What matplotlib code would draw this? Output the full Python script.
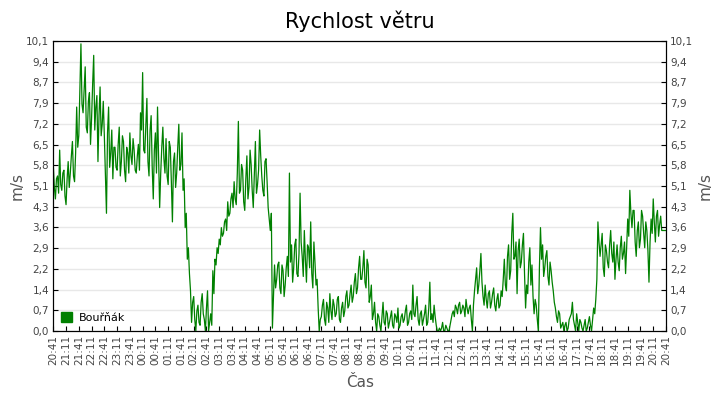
# rychlost vetru - Bourak, 24 h
from datetime import datetime, timedelta
import numpy as np
from matplotlib import pyplot as plt
from matplotlib.patches import Patch
from matplotlib.ticker import FixedLocator, FuncFormatter

start = datetime(2024, 1, 1, 20, 41)
krok = 5  # minut mezi vzorky
nazev = 'Bouřňák'

# odhad z obrazku, po 5 minutach (cas t)
rychlost = [
    5.8, 4.6, 5.4, 6.3, 4.9, 5.6, 4.4, 5.9,
    5.5, 6.6, 5.2,
    7.8, 6.8,
    10.0,
    7.6, 9.2, 6.9, 8.3, 7.4, 9.6, 7.8, 5.9, 8.5, 7.2,
    6.8, 4.1, 7.8, 6.2, 5.3,
    6.4, 5.6, 7.1, 5.9, 6.6, 5.2, 6.2, 6.9, 5.8, 6.3, 5.5,
    6.5, 7.6, 9.0, 6.2, 8.1, 5.4, 7.5, 4.6, 6.9, 7.8, 4.3, 6.4,
    6.0, 6.7, 5.1, 6.4, 3.8, 6.2, 5.5, 7.2, 5.8,
    4.9, 3.6,
    2.5, 2.0,
    0.3, 1.2, 0.0, 0.9, 0.2, 1.3, 0.4, 0.8, 0.0, 0.6,
    2.1,
    2.5, 2.9, 3.2, 3.6, 3.4, 3.9, 4.5, 4.1, 4.8,
    5.2, 4.4, 7.3, 4.9, 5.6, 4.2, 6.1, 5.0, 5.8, 4.3, 6.6, 5.1, 7.0, 5.4, 4.7, 6.0,
    4.3, 3.5,
    0.1, 2.3,
    1.8, 2.4, 1.3, 2.1, 1.6, 2.6,
    5.5, 3.0,
    2.2, 3.2, 1.9, 4.8, 2.6, 3.5, 1.7, 2.9, 3.8, 1.5, 2.4, 1.8,
    0.0,
    0.5, 1.1, 0.2, 0.8, 1.3, 0.4, 0.9, 0.6, 1.2, 0.3, 1.0, 0.7, 1.4, 0.9, 1.6,
    1.2, 2.0, 1.5, 2.6,
    1.8, 2.8, 1.5, 2.3, 1.2,
    0.4, 1.0, 0.0,
    0.5, 0.0, 1.0, 0.2, 0.6, 0.3, 0.7, 0.1, 0.5, 0.8, 0.2, 0.6, 0.4, 0.9, 0.3,
    0.7, 1.6, 0.5, 1.2, 0.2, 0.7, 0.4, 0.9, 0.3, 1.7, 0.6, 0.9, 0.2, 0.0,
    0.0, 0.3, 0.0, 0.1, 0.0, 0.4,
    0.7, 0.9, 0.6, 1.0, 0.7, 0.8, 1.1, 0.6, 0.9, 0.0,
    1.4, 2.2, 1.6, 2.7,
    1.2, 1.6, 0.8, 1.4, 1.0, 1.5, 0.7, 1.3, 0.9, 1.2,
    2.5, 1.4, 3.0, 2.1, 4.1, 2.6, 1.3, 3.2, 2.4, 3.4,
    0.8, 1.3,
    2.9, 2.3,
    0.6, 0.9, 0.0,
    3.6, 3.0,
    2.2, 2.8, 1.6, 2.1,
    1.4, 0.8, 0.3, 0.6, 0.2,
    0.0, 0.3, 0.1, 0.5, 1.0, 0.2, 0.6, 0.0, 0.3, 0.0, 0.4, 0.1, 0.5, 0.0,
    0.8, 1.1,
    3.8,
    2.6, 3.4, 1.9, 2.8, 2.2, 3.5, 2.4, 1.8, 3.0, 2.1, 3.3, 2.7, 2.0,
    3.9, 4.9, 3.6,
    4.2, 2.6, 3.8, 3.2, 4.0, 2.9, 3.5, 1.7, 3.9, 4.6, 3.1, 4.2, 3.7,
    3.5, 3.5, 3.5,
]

# odectene hodnoty mezi vzorky (cas t + 2.5 min)
mezi = [
    5.0, 5.3, 4.8, 5.1, 5.5, 4.7, 5.3, 5.0,
    6.1, 5.4, 6.2,
    6.4, 8.4,
    7.9,
    8.4, 7.1, 8.0, 6.5, 8.6, 7.0, 8.2, 7.5, 6.8, 8.0,
    5.4, 6.9, 5.7, 7.0, 6.4,
    5.7, 6.5, 5.4, 6.8, 5.6, 6.4, 5.5, 6.1, 6.7, 5.6, 6.1,
    5.6, 7.0, 6.3, 7.2, 5.9, 7.0, 5.7, 6.3, 5.5, 6.0, 5.5, 7.1,
    5.5, 5.4, 6.6, 5.2, 5.9, 5.0, 6.4, 5.6, 6.9,
    5.3, 4.1,
    2.9, 1.4,
    1.0, 0.4, 0.7, 0.3, 1.0, 0.6, 0.0, 1.4, 0.3, 0.2,
    1.3,
    2.3, 2.7, 3.0, 3.3, 3.8, 3.5, 4.0, 4.6, 4.3,
    4.6, 5.5, 4.8, 5.8, 4.5, 5.3, 4.6, 6.3, 4.9, 5.5, 4.8, 5.6, 6.1, 4.9, 5.9, 5.2,
    3.9, 4.1,
    1.2, 1.5,
    2.3, 1.5, 2.3, 1.2, 2.2, 1.9,
    2.4, 1.7,
    3.0, 2.0, 2.7, 3.1, 1.9, 2.5, 3.0, 2.2, 2.0, 3.1, 1.6, 0.8,
    0.4,
    0.9, 0.4, 1.0, 0.3, 0.7, 1.1, 0.5, 1.1, 0.4, 0.8, 0.5, 1.2, 0.8, 1.3, 1.0,
    1.7, 1.3, 2.2, 1.8,
    2.2, 1.7, 2.5, 1.0, 1.6,
    0.6, 0.3, 0.6,
    0.2, 0.5, 0.3, 0.7, 0.1, 0.5, 0.2, 0.6, 0.3, 0.1, 0.5, 0.3, 0.7, 0.2, 0.6,
    0.4, 0.6, 0.9, 0.4, 0.6, 0.2, 0.6, 0.2, 0.8, 0.4, 0.3, 0.5, 0.0, 0.1,
    0.1, 0.0, 0.2, 0.0, 0.2, 0.6,
    0.5, 0.8, 0.9, 0.6, 0.9, 0.5, 0.8, 0.8, 0.4, 0.9,
    1.8, 1.3, 2.1, 1.7,
    0.9, 1.1, 1.3, 0.8, 1.3, 0.9, 1.1, 0.8, 1.4, 1.8,
    1.6, 2.6, 1.8, 3.4, 2.5, 3.1, 2.8, 2.2, 3.0, 2.0,
    1.6, 2.4,
    1.6, 1.2,
    1.1, 0.4, 2.2,
    2.5, 1.9,
    2.6, 1.9, 2.4, 1.7,
    1.0, 0.5, 0.7, 0.1, 0.3,
    0.2, 0.0, 0.4, 0.6, 0.4, 0.0, 0.3, 0.4, 0.1, 0.2, 0.0, 0.3, 0.2, 0.4,
    0.6, 1.8,
    3.1,
    3.0, 2.2, 3.0, 2.4, 3.0, 2.7, 3.1, 2.5, 2.4, 2.9, 2.5, 3.1, 2.9,
    3.3, 4.1, 4.2,
    3.1, 3.5, 2.9, 4.2, 3.4, 3.8, 2.8, 3.1, 3.4, 3.8, 4.0, 3.3, 4.0,
    3.5, 3.5, 3.5,
]

t = np.arange(len(rychlost)) * krok
minuty = np.column_stack([t, t + krok / 2]).ravel()
hodnoty = np.column_stack([rychlost, mezi]).ravel()

ymax = 10.1
yticks = np.linspace(0, ymax, 15)
xticks = np.arange(0, 24 * 60 + 1, 30)
xlabels = [(start + timedelta(minutes=int(m))).strftime('%H:%M') for m in xticks]

seda = '#555555'
fmt = FuncFormatter(lambda v, p: f'{v + 1e-9:.1f}'.replace('.', ','))

fig = plt.figure(figsize=(7.2, 4), dpi=100)
ax = fig.add_axes([0.074, 0.1725, 0.851, 0.725])
ax.plot(minuty, hodnoty, color='#008000', lw=0.9)

ax.set_xlim(0, 24 * 60)
ax.set_ylim(0, ymax)
ax.yaxis.set_major_locator(FixedLocator(yticks))
ax.yaxis.set_major_formatter(fmt)
ax.set_xticks(xticks)
ax.set_xticklabels(xlabels, rotation=90)
ax.grid(axis='y', color='#e8e8e8', lw=1)
ax.set_axisbelow(True)
ax.tick_params(labelsize=7.5, labelcolor='#444444', length=3.5,
               direction='in', pad=3)

ax2 = ax.twinx()
ax2.set_ylim(0, ymax)
ax2.yaxis.set_major_locator(FixedLocator(yticks))
ax2.yaxis.set_major_formatter(fmt)
ax2.tick_params(labelsize=7.5, labelcolor='#444444', length=3.5,
                direction='in', pad=3)

ax.set_ylabel('m/s', color=seda, fontsize=11, labelpad=1)
ax2.set_ylabel('m/s', color=seda, fontsize=11, rotation=90, labelpad=3)
ax.set_xlabel('Čas', color=seda, fontsize=11, labelpad=7)
ax.set_title('Rychlost větru', fontsize=15, pad=9)

ax.legend(handles=[Patch(color='#008000', label=nazev)], loc='lower left',
          frameon=False, fontsize=8, handlelength=1.0, handleheight=1.0,
          borderaxespad=0.3, handletextpad=0.6)

fig.savefig('out.png')
